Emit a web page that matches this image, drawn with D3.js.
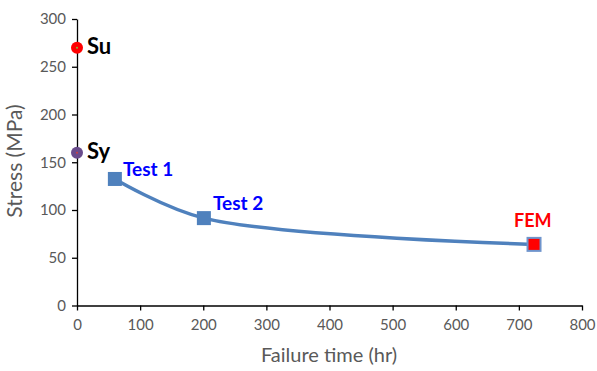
<!DOCTYPE html>
<body style="margin:0;background:#fff">
<svg width="597" height="371" font-family="Lato, 'Open Sans', sans-serif"></svg>
</body>
<script src="https://cdn.jsdelivr.net/npm/d3@7"></script>
<script>

var svg = d3.select("svg");

// strength points on the stress axis
var strengthNames = ["Su", "Sy"];
var strengthValues = [270, 160];
var strengthFill = ["#ff0000", "#6a4c8c"];
var strengthDot = ["#7fbf3f", "#d04040"];

// failure tests
var testNames = ["Test 1", "Test 2", "FEM"];
var testTimes = [60, 201, 724];
var testStress = [132.5, 91.5, 64];

var xTicks = [0, 100, 200, 300, 400, 500, 600, 700, 800];
var yTicks = [0, 50, 100, 150, 200, 250, 300];

var x = d3.scaleLinear().domain([0, 800]).range([77, 582]);
var y = d3.scaleLinear().domain([0, 300]).range([305.5, 19]);

var tickColor = "#595959";

// axes
var xAxis = svg.append("g")
    .attr("transform", "translate(0," + y(0) + ")")
    .call(d3.axisBottom(x).tickValues(xTicks).tickSize(5).tickSizeOuter(0).tickPadding(9));
var yAxis = svg.append("g")
    .attr("transform", "translate(" + x(0) + ",0)")
    .call(d3.axisLeft(y).tickValues(yTicks).tickSize(5).tickSizeOuter(0).tickPadding(6));

[xAxis, yAxis].forEach(function(a) {
  a.select(".domain").attr("stroke", "#000").attr("stroke-width", 1.3);
  a.selectAll(".tick line").attr("stroke", "#000").attr("stroke-width", 1.3);
  a.selectAll(".tick text")
      .attr("fill", tickColor)
      .attr("font-size", 15)
      .attr("font-family", "Lato, 'Open Sans', sans-serif");
});

svg.append("text")
    .attr("x", 329).attr("y", 362)
    .attr("text-anchor", "middle")
    .attr("font-size", 20)
    .attr("fill", tickColor)
    .text("Failure time (hr)");

svg.append("text")
    .attr("transform", "translate(22,161) rotate(-90)")
    .attr("text-anchor", "middle")
    .attr("font-size", 21)
    .attr("fill", tickColor)
    .text("Stress (MPa)");

// smoothed line through the tests
var pts = testTimes.map(function(t, i) { return [t, testStress[i]]; });
var line = d3.line()
    .x(function(d) { return x(d[0]); })
    .y(function(d) { return y(d[1]); })
    .curve(d3.curveCatmullRom.alpha(0.5));

svg.append("path")
    .datum(pts)
    .attr("d", line)
    .attr("fill", "none")
    .attr("stroke", "#4f81bd")
    .attr("stroke-width", 3.5);

// markers
pts.forEach(function(p, i) {
  var s = i == 2 ? 13 : 14;
  svg.append("rect")
      .attr("x", x(p[0]) - s / 2)
      .attr("y", y(p[1]) - s / 2)
      .attr("width", s).attr("height", s)
      .attr("fill", i == 2 ? "#ff0000" : "#4f81bd")
      .attr("stroke", i == 2 ? "#6f94cc" : "none")
      .attr("stroke-width", 2);
});

var labelX = [123, 213, 514];
var labelY = [176, 210, 227];
var labelSize = [19, 19, 18];
testNames.forEach(function(n, i) {
  svg.append("text")
      .attr("x", labelX[i]).attr("y", labelY[i])
      .attr("font-size", labelSize[i])
      .attr("font-weight", "bold")
      .attr("fill", i == 2 ? "#ff0000" : "#0000ff")
      .text(n);
});

strengthValues.forEach(function(v, i) {
  svg.append("circle")
      .attr("cx", x(0)).attr("cy", y(v))
      .attr("r", 6)
      .attr("fill", strengthFill[i]);
  svg.append("circle")
      .attr("cx", x(0)).attr("cy", y(v))
      .attr("r", 1)
      .attr("fill", strengthDot[i]);
  svg.append("text")
      .attr("x", 87).attr("y", y(v) + 6)
      .attr("font-size", 22)
      .attr("font-weight", "bold")
      .attr("fill", "#000")
      .text(strengthNames[i]);
});

</script>
